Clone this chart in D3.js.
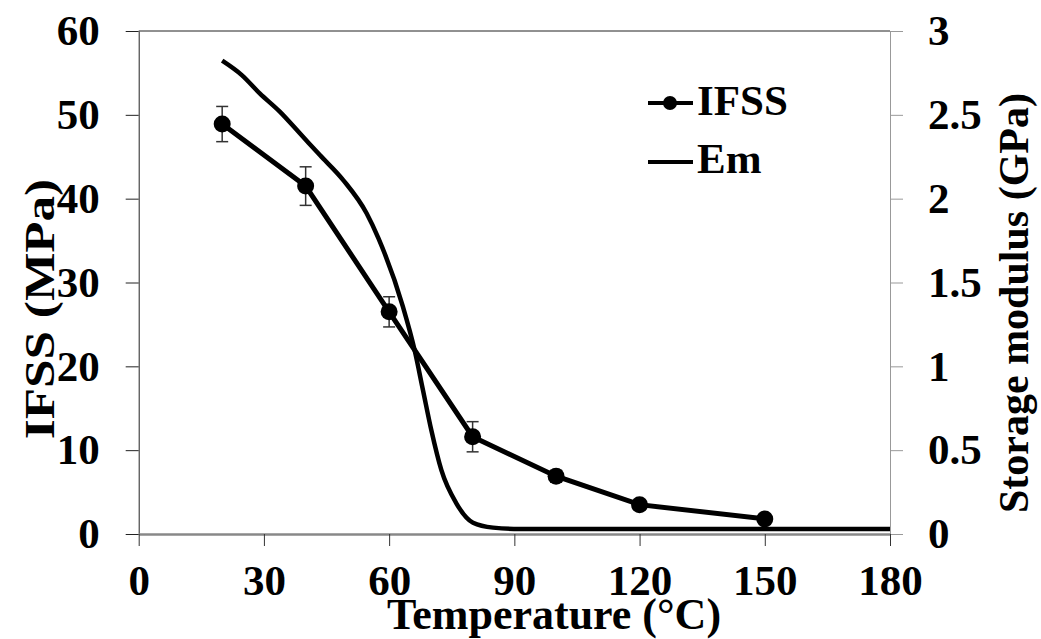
<!DOCTYPE html>
<html>
<head>
<meta charset="utf-8">
<script src="https://cdn.jsdelivr.net/npm/d3@7"></script>
<style>
  body { margin: 0; background: #fff; }
  text { font-family: "Liberation Serif", "Times New Roman", serif; font-weight: bold; fill: #000; }
</style>
</head>
<body>
<div id="chart"></div>
<script>
var width = 1041, height = 639;
var margin = {top: 31, left: 138.7, right: 151, bottom: 105};

// IFSS points with error bars
var ifssTemp = [20, 40, 60, 80, 100, 120, 150];
var ifssValue = [48.9, 41.5, 26.5, 11.6, 6.9, 3.5, 1.8];
var ifssError = [2.1, 2.3, 1.8, 1.8, 0.7, 0.4, 0.3];

// storage modulus curve (GPa)
var emTemp = [20, 24.7, 29, 33.8, 38.6, 43.4, 49, 54.6, 57.5, 63.3, 66.1, 68.1, 70.1, 72.5, 76.1, 80.1, 84.9, 91.3, 120, 150, 180];
var emValue = [2.823, 2.737, 2.628, 2.519, 2.39, 2.26, 2.111, 1.913, 1.76, 1.356, 1.097, 0.859, 0.62, 0.382, 0.183, 0.067, 0.038, 0.03, 0.03, 0.03, 0.03];

var xTicks = [0, 30, 60, 90, 120, 150, 180];
var yLeftTicks = [0, 10, 20, 30, 40, 50, 60];
var yRightTicks = [0, 0.5, 1, 1.5, 2, 2.5, 3];

var svg = d3.select("#chart")
    .append("svg")
    .attr("width", width)
    .attr("height", height);

var xScale = d3.scaleLinear().domain([0, 180]).range([margin.left, width - margin.right]);
var yScale = d3.scaleLinear().domain([0, 60]).range([height - margin.bottom, margin.top]);
var y2Scale = d3.scaleLinear().domain([0, 3]).range([height - margin.bottom, margin.top]);

var x0 = xScale(0), x1 = xScale(180), yTop = yScale(60), yBot = yScale(0);

// top border
svg.append("line")
    .attr("x1", x0).attr("x2", x1).attr("y1", yTop).attr("y2", yTop)
    .attr("stroke", "#222").attr("stroke-width", 1);

// left axis
var yAxis = svg.append("g")
    .attr("transform", `translate(${x0},0)`)
    .call(d3.axisLeft(yScale).tickValues(yLeftTicks).tickSize(13).tickSizeOuter(0).tickPadding(26));
yAxis.selectAll("path, line").attr("stroke", "#222");

// right axis
var y2Axis = svg.append("g")
    .attr("transform", `translate(${x1},0)`)
    .call(d3.axisRight(y2Scale).tickValues(yRightTicks).tickSize(13).tickSizeOuter(0).tickPadding(25)
        .tickFormat(function(d) { return String(d); }));
y2Axis.selectAll("path, line").attr("stroke", "#999");

// bottom axis
var xAxis = svg.append("g")
    .attr("transform", `translate(0,${yBot})`)
    .call(d3.axisBottom(xScale).tickValues(xTicks).tickSize(12).tickSizeOuter(0).tickPadding(18));
xAxis.select(".domain").attr("stroke", "#888").attr("stroke-width", 2.5);
xAxis.selectAll(".tick line").attr("stroke", "#333");

svg.selectAll(".tick text")
    .style("font-size", "43px")
    .style("font-family", "'Liberation Serif', 'Times New Roman', serif")
    .style("font-weight", "bold")
    .attr("fill", "#000");

// Em curve
var emData = emTemp.map(function(t, i) { return {t: t, e: emValue[i]}; });
svg.append("path")
    .datum(emData)
    .attr("fill", "none")
    .attr("stroke", "#000")
    .attr("stroke-width", 4.5)
    .attr("stroke-linejoin", "round")
    .attr("d", d3.line()
        .x(function(d) { return xScale(d.t); })
        .y(function(d) { return y2Scale(d.e); })
        .curve(d3.curveMonotoneX));

// IFSS line
var ifssData = ifssTemp.map(function(t, i) { return {t: t, v: ifssValue[i], err: ifssError[i]}; });
svg.append("path")
    .datum(ifssData)
    .attr("fill", "none")
    .attr("stroke", "#000")
    .attr("stroke-width", 5)
    .attr("d", d3.line()
        .x(function(d) { return xScale(d.t); })
        .y(function(d) { return yScale(d.v); }));

// error bars
var errG = svg.append("g").attr("stroke", "#333").attr("stroke-width", 1.5);
ifssData.forEach(function(d) {
    var cx = xScale(d.t);
    errG.append("line").attr("x1", cx).attr("x2", cx)
        .attr("y1", yScale(d.v + d.err)).attr("y2", yScale(d.v - d.err));
    [d.v + d.err, d.v - d.err].forEach(function(v) {
        errG.append("line").attr("x1", cx - 6).attr("x2", cx + 6)
            .attr("y1", yScale(v)).attr("y2", yScale(v));
    });
});

svg.selectAll("circle.pt")
    .data(ifssData)
    .enter()
    .append("circle")
    .attr("class", "pt")
    .attr("cx", function(d) { return xScale(d.t); })
    .attr("cy", function(d) { return yScale(d.v); })
    .attr("r", 8.5)
    .attr("fill", "#000");

// legend
var legend = svg.append("g");
legend.append("line").attr("x1", 648).attr("x2", 693).attr("y1", 103).attr("y2", 103)
    .attr("stroke", "#000").attr("stroke-width", 4);
legend.append("circle").attr("cx", 670).attr("cy", 103).attr("r", 7).attr("fill", "#000");
legend.append("text").attr("x", 697).attr("y", 115).style("font-size", "43px").text("IFSS");
legend.append("line").attr("x1", 648).attr("x2", 693).attr("y1", 162).attr("y2", 162)
    .attr("stroke", "#000").attr("stroke-width", 4);
legend.append("text").attr("x", 697).attr("y", 173).style("font-size", "43px").text("Em");

// axis titles
svg.append("text")
    .attr("x", 554).attr("y", 629)
    .attr("text-anchor", "middle")
    .style("font-size", "44px")
    .text("Temperature (°C)");

// the left title is drawn a bit stretched along its length, as in the reference
svg.append("text")
    .attr("transform", "translate(54,309) rotate(-90) scale(1.22,1)")
    .attr("text-anchor", "middle")
    .style("font-size", "42px")
    .text("IFSS (MPa)");

svg.append("text")
    .attr("transform", "translate(1028,303) rotate(-90)")
    .attr("text-anchor", "middle")
    .style("font-size", "42px")
    .text("Storage modulus (GPa)");
</script>
</body>
</html>
